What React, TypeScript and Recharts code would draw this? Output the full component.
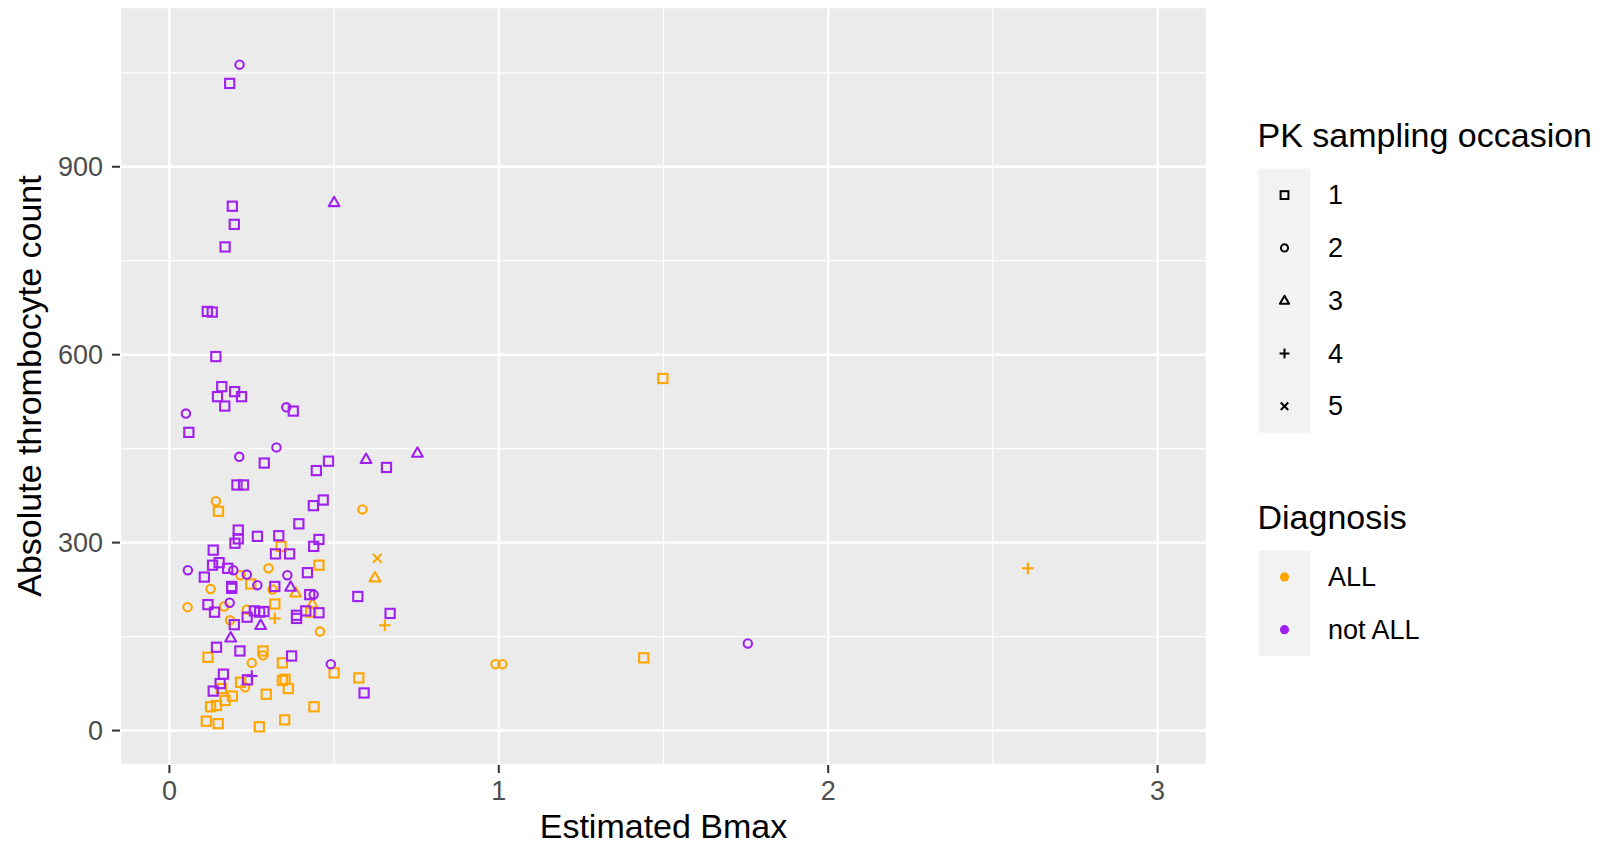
import React from 'react';
import { ScatterChart, Scatter, XAxis, YAxis, CartesianGrid, ReferenceLine } from 'recharts';

const ORANGE = '#FFA500';
const PURPLE = '#A020F0';
const FONT = '"Liberation Sans", Arial, Helvetica, sans-serif';

// [Estimated Bmax, Absolute thrombocyte count] per diagnosis and PK sampling occasion
const allOcc1: [number, number][] = [
  [1.498, 562], [0.149, 350], [0.339, 294], [0.454, 264], [0.247, 234], [0.320, 202],
  [0.429, 189], [1.440, 116], [0.117, 117], [0.284, 127], [0.343, 108], [0.500, 92],
  [0.575, 84], [0.158, 67], [0.216, 77], [0.343, 80], [0.351, 82], [0.361, 67],
  [0.294, 58], [0.191, 55], [0.169, 48], [0.125, 38], [0.143, 40], [0.439, 38],
  [0.112, 15], [0.148, 11], [0.350, 17], [0.273, 6],
];
const allOcc2: [number, number][] = [
  [0.141, 366], [0.586, 353], [0.216, 248], [0.301, 259], [0.125, 226], [0.313, 225],
  [0.055, 197], [0.166, 198], [0.235, 193], [0.184, 176], [0.457, 158], [0.284, 120],
  [0.250, 108], [0.230, 69], [0.990, 106], [1.011, 106],
];
const allOcc3: [number, number][] = [[0.383, 220], [0.624, 244], [0.434, 202]];
const allOcc4: [number, number][] = [[0.320, 179], [0.654, 168], [2.606, 259]];
const allOcc5: [number, number][] = [[0.631, 275]];

const notAllOcc1: [number, number][] = [
  [0.183, 1033], [0.191, 837], [0.197, 808], [0.169, 772], [0.115, 669], [0.130, 668],
  [0.141, 597], [0.159, 549], [0.198, 541], [0.146, 533], [0.219, 533], [0.168, 518],
  [0.376, 510], [0.059, 476], [0.288, 427], [0.483, 430], [0.446, 415], [0.659, 420],
  [0.205, 392], [0.225, 392], [0.437, 359], [0.467, 368], [0.393, 330], [0.209, 320],
  [0.209, 306], [0.199, 299], [0.267, 310], [0.332, 311], [0.322, 282], [0.365, 282],
  [0.454, 305], [0.438, 294], [0.133, 288], [0.131, 264], [0.151, 268], [0.106, 245],
  [0.177, 259], [0.419, 252], [0.189, 230], [0.189, 227], [0.320, 230], [0.426, 217],
  [0.572, 214], [0.117, 201], [0.137, 189], [0.236, 181], [0.258, 191], [0.274, 189],
  [0.287, 190], [0.414, 191], [0.454, 188], [0.386, 184], [0.386, 179], [0.670, 187],
  [0.197, 169], [0.143, 133], [0.214, 127], [0.371, 119], [0.164, 90], [0.154, 75],
  [0.133, 63], [0.237, 81], [0.591, 60],
];
const notAllOcc2: [number, number][] = [
  [0.213, 1063], [0.050, 506], [0.355, 516], [0.325, 452], [0.212, 437], [0.056, 256],
  [0.194, 256], [0.235, 249], [0.267, 232], [0.358, 248], [0.438, 217], [0.183, 204],
  [0.490, 106], [1.756, 139],
];
const notAllOcc3: [number, number][] = [
  [0.500, 843], [0.597, 433], [0.753, 443], [0.368, 229], [0.277, 168], [0.186, 148],
];
const notAllOcc4: [number, number][] = [[0.250, 87]];

const xTicks = [0, 1, 2, 3];
const yTicks = [0, 300, 600, 900];
const xMinor = [0.5, 1.5, 2.5];
const yMinor = [150, 450, 750, 1050];
const occasionLabels = ['1', '2', '3', '4', '5'];
const occasionKinds = ['square', 'circle', 'triangle', 'plus', 'cross'];
const diagnosisLabels = ['ALL', 'not ALL'];

type Kind = 'square' | 'circle' | 'triangle' | 'plus' | 'cross';

function Marker({ kind, cx, cy, color, s = 1, sw = 2.1 }: { kind: string; cx: number; cy: number; color: string; s?: number; sw?: number }) {
  if (kind === 'square') {
    const h = 4.6 * s;
    return <rect x={cx - h} y={cy - h} width={2 * h} height={2 * h} fill="none" stroke={color} strokeWidth={sw} />;
  }
  if (kind === 'circle') return <circle cx={cx} cy={cy} r={4.2 * s} fill="none" stroke={color} strokeWidth={sw} />;
  if (kind === 'triangle') {
    const pts = `${cx},${cy - 5.7 * s} ${cx - 5.4 * s},${cy + 3.7 * s} ${cx + 5.4 * s},${cy + 3.7 * s}`;
    return <polygon points={pts} fill="none" stroke={color} strokeWidth={sw} strokeLinejoin="round" />;
  }
  if (kind === 'plus') {
    const a = 5.8 * s;
    return (
      <g stroke={color} strokeWidth={sw}>
        <line x1={cx - a} y1={cy} x2={cx + a} y2={cy} />
        <line x1={cx} y1={cy - a} x2={cx} y2={cy + a} />
      </g>
    );
  }
  const a = 4.4 * s;
  return (
    <g stroke={color} strokeWidth={sw}>
      <line x1={cx - a} y1={cy - a} x2={cx + a} y2={cy + a} />
      <line x1={cx - a} y1={cy + a} x2={cx + a} y2={cy - a} />
    </g>
  );
}

const series: { data: [number, number][]; kind: Kind; color: string }[] = [
  { data: allOcc1, kind: 'square', color: ORANGE },
  { data: allOcc2, kind: 'circle', color: ORANGE },
  { data: allOcc3, kind: 'triangle', color: ORANGE },
  { data: allOcc4, kind: 'plus', color: ORANGE },
  { data: allOcc5, kind: 'cross', color: ORANGE },
  { data: notAllOcc1, kind: 'square', color: PURPLE },
  { data: notAllOcc2, kind: 'circle', color: PURPLE },
  { data: notAllOcc3, kind: 'triangle', color: PURPLE },
  { data: notAllOcc4, kind: 'plus', color: PURPLE },
];

function Legend() {
  const keyX = 1258.5;
  const keyW = 52;
  const keyH = 52.8;
  const occTop = 168.7;
  const diagTop = 550.5;
  return (
    <svg width={1603} height={848} style={{ position: 'absolute', left: 0, top: 0, pointerEvents: 'none' }}>
      <g fontFamily={FONT}>
        {/* y axis title */}
        <text x={41} y={386} transform="rotate(-90 41 386)" textAnchor="middle" fontSize={34} fill="#000">
          Absolute thrombocyte count
        </text>
        {/* x axis title */}
        <text x={663.5} y={838} textAnchor="middle" fontSize={34} fill="#000">Estimated Bmax</text>

        <text x={1257.5} y={147} fontSize={34} fill="#000">PK sampling occasion</text>
        <rect x={keyX} y={occTop} width={keyW} height={keyH * occasionLabels.length} fill="#F2F2F2" />
        {occasionLabels.map((lab, i) => {
          const cy = occTop + keyH * (i + 0.5);
          return (
            <g key={lab}>
              <Marker kind={occasionKinds[i]} cx={keyX + keyW / 2} cy={cy} color="#000" s={0.85} sw={2} />
              <text x={1328} y={cy} dominantBaseline="central" fontSize={27} fill="#000">{lab}</text>
            </g>
          );
        })}

        <text x={1257.5} y={529} fontSize={34} fill="#000">Diagnosis</text>
        <rect x={keyX} y={diagTop} width={keyW} height={keyH * diagnosisLabels.length} fill="#F2F2F2" />
        {diagnosisLabels.map((lab, i) => {
          const cy = diagTop + keyH * (i + 0.5);
          return (
            <g key={lab}>
              <circle cx={keyX + keyW / 2} cy={cy} r={4.6} fill={i === 0 ? ORANGE : PURPLE} />
              <text x={1328} y={cy} dominantBaseline="central" fontSize={27} fill="#000">{lab}</text>
            </g>
          );
        })}
      </g>
    </svg>
  );
}

export default function App() {
  return (
    <div style={{ position: 'absolute', left: 0, top: 0, width: 1603, height: 848, background: '#fff', fontFamily: FONT }}>
      <ScatterChart width={1603} height={848} margin={{ top: 7, right: 396, bottom: 0, left: 0 }}>
        <CartesianGrid fill="#EBEBEB" stroke="#FFFFFF" strokeWidth={2.4} />
        {xMinor.map(v => (
          <ReferenceLine key={'x' + v} x={v} stroke="#FFFFFF" strokeWidth={1.2} />
        ))}
        {yMinor.map(v => (
          <ReferenceLine key={'y' + v} y={v} stroke="#FFFFFF" strokeWidth={1.2} />
        ))}
        <XAxis
          type="number"
          dataKey="x"
          domain={[-0.15, 3.15]}
          ticks={xTicks}
          allowDataOverflow
          height={83}
          axisLine={false}
          tickSize={8}
          tickMargin={8}
          tickLine={{ stroke: '#333333', strokeWidth: 2 }}
          tick={{ fill: '#4D4D4D', fontSize: 27, fontFamily: FONT }}
        />
        <YAxis
          type="number"
          dataKey="y"
          domain={[-55, 1155]}
          ticks={yTicks}
          allowDataOverflow
          width={120}
          axisLine={false}
          tickSize={8}
          tickMargin={9}
          tickLine={{ stroke: '#333333', strokeWidth: 2 }}
          tick={{ fill: '#4D4D4D', fontSize: 27, fontFamily: FONT }}
        />
        {series.map((s, i) => (
          <Scatter
            key={i}
            data={s.data.map(([x, y]) => ({ x, y }))}
            isAnimationActive={false}
            shape={(p: any) => <Marker kind={s.kind} cx={p.cx} cy={p.cy} color={s.color} />}
          />
        ))}
      </ScatterChart>
      <Legend />
    </div>
  );
}
